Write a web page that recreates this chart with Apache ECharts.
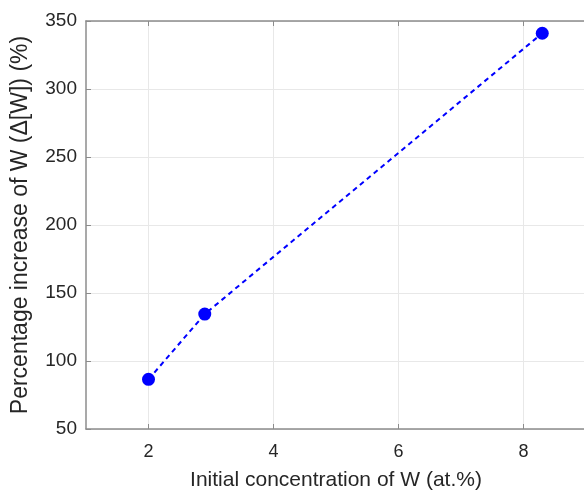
<!DOCTYPE html>
<html>
<head>
<meta charset="utf-8">
<script src="https://cdn.jsdelivr.net/npm/echarts@6/dist/echarts.min.js"></script>
<style>
  html, body { margin: 0; padding: 0; background: #fff; }
  #chart { width: 584px; height: 493px; }
</style>
</head>
<body>
<div id="chart"></div>
<script>
// data
var initialW = [2.0, 2.9, 8.3];
var increaseW = [86.5, 134.5, 341];
var xTicks = [2, 4, 6, 8];

var chart = echarts.init(document.getElementById('chart'));
var txt = '#262626';
var axisGray = '#8c8c8c';
var gridGray = '#e8e8e8';
var font = 'Liberation Sans';

var option = {
  backgroundColor: '#fff',
  animation: false,
  grid: { left: 86, top: 21, bottom: 64, right: -2, outerBoundsMode: 'none' },
  xAxis: [{
    type: 'value', min: 1, max: 9, position: 'bottom',
    name: 'Initial concentration of W (at.%)',
    nameLocation: 'middle', nameGap: 41,
    nameTextStyle: { color: txt, fontSize: 21, fontFamily: font },
    axisLine: { lineStyle: { color: axisGray, width: 1.5 } },
    axisTick: { inside: true, length: 5, customValues: xTicks, lineStyle: { color: axisGray } },
    axisLabel: { customValues: xTicks, color: txt, fontSize: 18, fontFamily: font, margin: 14 },
    splitLine: { show: true, lineStyle: { color: gridGray, width: 1 } }
  }, {
    type: 'value', min: 1, max: 9, position: 'top',
    axisLine: { lineStyle: { color: axisGray, width: 1.5 } },
    axisTick: { inside: true, length: 5, customValues: xTicks, lineStyle: { color: axisGray } },
    axisLabel: { show: false },
    splitLine: { show: false }
  }],
  yAxis: {
    type: 'value', min: 50, max: 350, interval: 50,
    name: 'Percentage increase of W (\u0394[W]) (%)',
    nameLocation: 'middle', nameGap: 54,
    nameTextStyle: { color: txt, fontSize: 23, fontFamily: font },
    axisLine: { show: true, lineStyle: { color: axisGray, width: 1.5 } },
    axisTick: { show: true, inside: true, length: 5, lineStyle: { color: axisGray } },
    axisLabel: { color: txt, fontSize: 19, fontFamily: font, margin: 9 },
    splitLine: { show: true, lineStyle: { color: gridGray, width: 1 } }
  },
  series: [{
    type: 'line',
    data: initialW.map(function (x, i) { return [x, increaseW[i]]; }),
    symbol: 'circle', symbolSize: 13,
    itemStyle: { color: '#0000ff' },
    lineStyle: { color: '#0000ff', width: 2, type: [5, 4] }
  }]
};
chart.setOption(option);
</script>
</body>
</html>
